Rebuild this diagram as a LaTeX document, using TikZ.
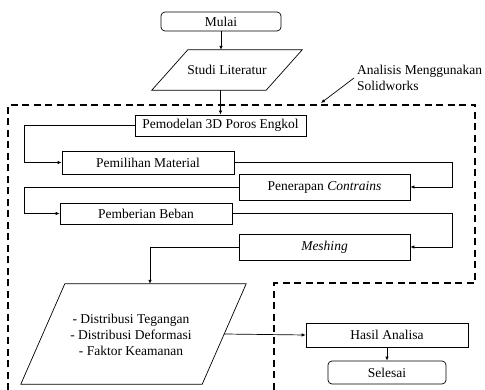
\documentclass[tikz,border=0pt]{standalone}
\usepackage{fontspec}
\setmainfont{Liberation Serif}
\usetikzlibrary{arrows.meta,calc}
\begin{document}
\begin{tikzpicture}[x=1pt,y=-1pt,
  font=\rmfamily\fontsize{13.5}{16}\selectfont,
  box/.style={draw,line width=0.7pt,inner sep=0pt,align=center},
  term/.style={box,rounded corners=4pt},
  paraframe/.style={inner sep=0pt,align=center},
  edge/.style={line width=0.7pt},
  arr/.style={line width=0.7pt,-{Latex[length=4pt,width=3.5pt]}},
  region/.style={line width=1.4pt,dash pattern=on 7pt off 4.5pt}]
\useasboundingbox (0,0) rectangle (485,390);
\node[term,minimum width=120pt,minimum height=19pt] (mulai) at (221,21.5) {Mulai};
\node[paraframe,minimum width=150pt,minimum height=40pt] (studi) at (227,70) {Studi Literatur};
\draw[edge] ([xshift=36pt]studi.north west) -- (studi.north east) -- ([xshift=-36pt]studi.south east) -- (studi.south west) -- cycle;
\node[box,minimum width=171pt,minimum height=21pt] (pemod) at (220.5,125.5) {Pemodelan 3D Poros Engkol};
\node[box,minimum width=172pt,minimum height=23pt] (pemil) at (148,162.5) {Pemilihan Material};
\node[box,minimum width=171pt,minimum height=26pt] (pener) at (324.5,187) {Penerapan \textit{Contrains}};
\node[box,minimum width=172pt,minimum height=21pt] (pember) at (146,213.5) {Pemberian Beban};
\node[box,minimum width=171pt,minimum height=26pt] (mesh) at (324.5,247) {\textit{Meshing}};
\node[paraframe,minimum width=225pt,minimum height=100pt] (hasilpara) at (133.5,334) {};
\node[align=center,inner sep=0pt] (paratext) at (131,335) {- Distribusi Tegangan\\- Distribusi Deformasi\\- Faktor Keamanan};
\draw[edge] ([xshift=44pt]hasilpara.north west) -- (hasilpara.north east) -- ([xshift=-44pt]hasilpara.south east) -- (hasilpara.south west) -- cycle;
\node[box,minimum width=162pt,minimum height=24pt] (hasil) at (387,335) {Hasil Analisa};
\node[term,minimum width=118pt,minimum height=23pt] (selesai) at (387,372.5) {Selesai};
\node[anchor=west,align=left,inner sep=0pt] (annot) at (357,78) {Analisis Menggunakan\\Solidworks};
\coordinate (lx) at (24,0);
\coordinate (rx) at (452,0);
\coordinate (annotend) at (321,103);
% region
\draw[region] (8,390) -- (8,105) -- (475,105) -- (475,283) -- (274,283) -- (274,390);
% connectors
\draw[arr] (mulai.south) -- (mulai.south |- studi.north);
\draw[arr] (pemod.north |- studi.south) -- (pemod.north);
\draw[arr] (pemod.west) -- (pemod.west -| lx) |- (pemil.west);
\draw[arr] (pemil.east) -- (pemil.east -| rx) |- (pener.east);
\draw[arr] (pener.west) -- (pener.west -| lx) |- (pember.west);
\draw[arr] (pember.east) -- (pember.east -| rx) |- (mesh.east);
\draw[arr] (mesh.west) -| ([xshift=16.5pt]hasilpara.north);
\draw[arr] ([xshift=-22pt]hasilpara.east) -- (hasil.west);
\draw[arr] (hasil.south) -- (selesai.north);
\draw[arr] ([xshift=-3pt]annot.west) -- (annotend);
\end{tikzpicture}
\end{document}
